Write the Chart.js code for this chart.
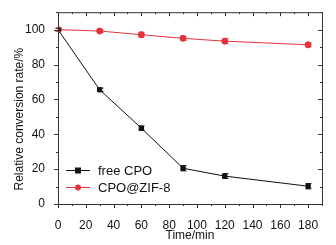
<!DOCTYPE html>
<html>
<head>
<meta charset="utf-8">
<script src="https://cdn.jsdelivr.net/npm/chart.js@4/dist/chart.umd.min.js"></script>
<style>
  html, body { margin: 0; padding: 0; background: #fff; }
  #wrap { width: 336px; height: 245px; position: relative; }
</style>
</head>
<body>
<div id="wrap"><canvas id="c"></canvas></div>
<script>
// values
const TIMES = [0, 30, 60, 90, 120, 180];
const FREE_CPO = [100, 65.5, 43.5, 20.5, 16, 10.2];
const FREE_CPO_ERR = [0.6, 1.0, 1.2, 1.5, 1.4, 1.5];
const CPO_ZIF8 = [100, 99.2, 97.1, 95.0, 93.4, 91.3];
const CPO_ZIF8_ERR = [1.0, 0.8, 1.4, 1.2, 1.4, 1.2];
const X_TICKS = [0, 20, 40, 60, 80, 100, 120, 140, 160, 180];
const Y_TICKS = [0, 20, 40, 60, 80, 100];
const X_TITLE = "Time/min";
const Y_TITLE = "Relative conversion rate/%";

const FONT = "'Liberation Sans', Arial, sans-serif";
const RED = "#e4323d";

const toPoints = (vals, errs) => TIMES.map((t, i) => ({ x: t, y: vals[i], err: errs[i] }));

// frame, mirrored ticks (major every 20, minor every 10), error bars, legend, axis titles
const framePlugin = {
  id: "frame",
  afterDatasetsDraw(chart) {
    const { ctx, chartArea: a, scales } = chart;
    const xs = scales.x, ys = scales.y;
    ctx.save();
    ctx.lineWidth = 1;

    chart.data.datasets.forEach((ds) => {
      ctx.strokeStyle = ds.borderColor;
      ds.data.forEach((p) => {
        const px = Math.round(xs.getPixelForValue(p.x)) + 0.5;
        const y1 = ys.getPixelForValue(p.y + p.err);
        const y2 = ys.getPixelForValue(p.y - p.err);
        ctx.beginPath();
        ctx.moveTo(px, y1); ctx.lineTo(px, y2);
        ctx.moveTo(px - 3, y1); ctx.lineTo(px + 3, y1);
        ctx.moveTo(px - 3, y2); ctx.lineTo(px + 3, y2);
        ctx.stroke();
      });
    });

    ctx.strokeStyle = "#333";
    ctx.strokeRect(a.left + 0.5, a.top + 0.5, a.right - a.left, a.bottom - a.top);
    ctx.beginPath();
    for (let v = 0; v <= 190; v += 10) {
      const px = Math.round(xs.getPixelForValue(v)) + 0.5;
      const len = v % 20 === 0 ? 4 : 2;
      ctx.moveTo(px, a.bottom); ctx.lineTo(px, a.bottom + len);
      ctx.moveTo(px, a.top); ctx.lineTo(px, a.top + len);
    }
    for (let v = 0; v <= 110; v += 10) {
      const py = Math.round(ys.getPixelForValue(v)) + 0.5;
      const len = v % 20 === 0 ? 4 : 2;
      ctx.moveTo(a.left, py); ctx.lineTo(a.left - len, py);
      ctx.moveTo(a.right, py); ctx.lineTo(a.right - len, py);
    }
    ctx.stroke();
    ctx.restore();
  },
  afterDraw(chart) {
    const { ctx, chartArea: a } = chart;
    ctx.save();
    ctx.font = "13px " + FONT;
    ctx.textBaseline = "middle";
    chart.data.datasets.forEach((ds, i) => {
      const y = a.bottom - 34 + i * 17;
      const x0 = a.left + 8;
      ctx.strokeStyle = ds.borderColor;
      ctx.fillStyle = ds.borderColor;
      ctx.lineWidth = 1;
      ctx.beginPath(); ctx.moveTo(x0, y + 0.5); ctx.lineTo(x0 + 24, y + 0.5); ctx.stroke();
      if (ds.pointStyle === "rect") ctx.fillRect(x0 + 9, y - 2.5, 6, 6);
      else { ctx.beginPath(); ctx.arc(x0 + 12, y + 0.5, 3, 0, Math.PI * 2); ctx.fill(); }
      ctx.fillStyle = "#111";
      ctx.fillText(ds.label, x0 + 32, y + 1);
    });

    ctx.font = "12px " + FONT;
    ctx.textAlign = "center";
    ctx.fillStyle = "#111";
    ctx.fillText(X_TITLE, (a.left + a.right) / 2, 236);

    // y title sits a bit below the plot's middle in the original
    ctx.translate(20, (a.top + a.bottom) / 2 + 11);
    ctx.rotate(-Math.PI / 2);
    ctx.fillText(Y_TITLE, 0, 0);
    ctx.restore();
  },
};

new Chart(document.getElementById("c"), {
  type: "line",
  data: {
    datasets: [
      {
        label: "free CPO",
        data: toPoints(FREE_CPO, FREE_CPO_ERR),
        borderColor: "#111",
        backgroundColor: "#111",
        borderWidth: 1,
        pointStyle: "rect",
        pointRadius: 3,
        tension: 0,
      },
      {
        label: "CPO@ZIF-8",
        data: toPoints(CPO_ZIF8, CPO_ZIF8_ERR),
        borderColor: RED,
        backgroundColor: RED,
        borderWidth: 1,
        pointStyle: "circle",
        pointRadius: 3,
        tension: 0,
      },
    ],
  },
  options: {
    animation: false,
    responsive: true,
    maintainAspectRatio: false,
    layout: { padding: { top: 10, right: 14, left: 0, bottom: 0 } },
    plugins: { legend: { display: false }, tooltip: { enabled: false } },
    scales: {
      x: {
        type: "linear",
        min: 0,
        max: 190,
        grid: { display: false },
        border: { display: false },
        afterBuildTicks: (s) => { s.ticks = X_TICKS.map((v) => ({ value: v })); },
        ticks: {
          autoSkip: false,
          color: "#111",
          font: { family: FONT, size: 12 },
          padding: 6,
          maxRotation: 0,
        },
        afterFit: (s) => { s.height = 41; },
      },
      y: {
        min: 0,
        max: 110,
        grid: { display: false },
        border: { display: false },
        afterBuildTicks: (s) => { s.ticks = Y_TICKS.map((v) => ({ value: v })); },
        ticks: {
          autoSkip: false,
          color: "#111",
          font: { family: FONT, size: 12 },
          padding: 5,
        },
        afterFit: (s) => { s.width = 58; },
      },
    },
  },
  plugins: [framePlugin],
});
</script>
</body>
</html>
